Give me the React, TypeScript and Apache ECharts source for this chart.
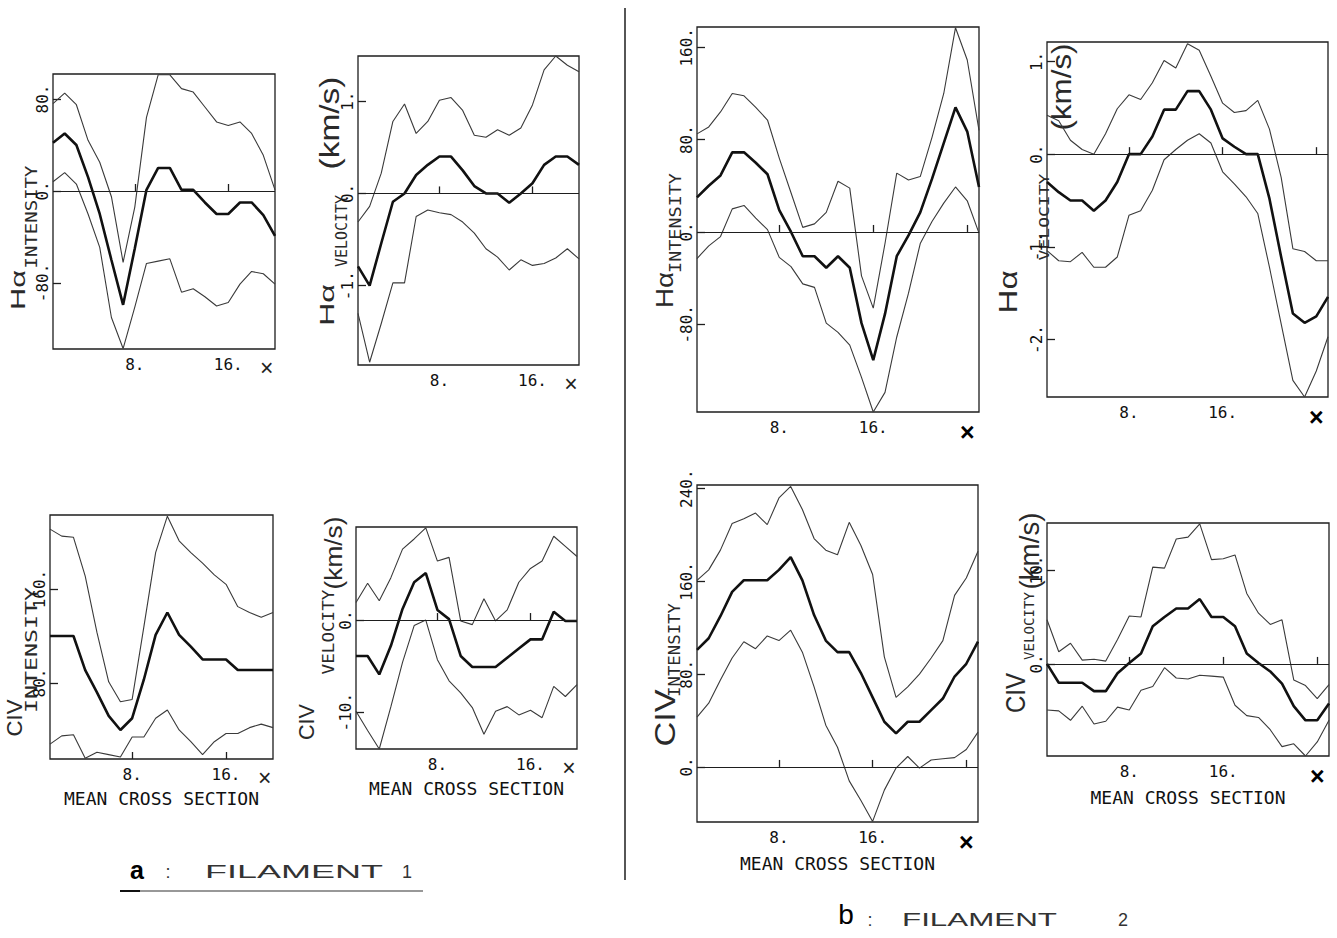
import React, { useEffect, useRef } from "react";
import * as echarts from "echarts";

// ---------------- DATA ----------------
const f1X = [1, 2, 3, 4, 5, 6, 7, 8, 9, 10, 11, 12, 13, 14, 15, 16, 17, 18, 19, 20];
const f2X = [1, 2, 3, 4, 5, 6, 7, 8, 9, 10, 11, 12, 13, 14, 15, 16, 17, 18, 19, 20, 21, 22, 23, 24, 25];

// Filament 1 — Hα intensity
const f1HaIntUpper = [76, 85, 75, 44, 25, -5, -62, -14, 64, 101, 101, 89, 86, 73, 60, 57, 60, 50, 31, 1];
const f1HaIntMean = [42, 50, 40, 12, -20, -60, -99, -50, 1, 20, 20, 1, 1, -10, -20, -20, -10, -10, -21, -39];
const f1HaIntLower = [8, 16, 6, -20, -49, -110, -137, -101, -63, -61, -59, -88, -85, -92, -100, -97, -81, -70, -72, -81];

// Filament 1 — Hα velocity (km/s)
const f1HaVelUpper = [-0.31, -0.14, 0.22, 0.78, 0.97, 0.65, 0.78, 1.01, 1.04, 0.9, 0.63, 0.61, 0.69, 0.63, 0.71, 0.96, 1.34, 1.49, 1.39, 1.32];
const f1HaVelMean = [-0.79, -1.0, -0.54, -0.09, 0, 0.2, 0.31, 0.4, 0.4, 0.25, 0.08, 0, 0, -0.1, 0, 0.11, 0.31, 0.4, 0.4, 0.31];
const f1HaVelLower = [-1.3, -1.83, -1.41, -0.97, -0.97, -0.25, -0.18, -0.21, -0.23, -0.31, -0.43, -0.6, -0.69, -0.83, -0.72, -0.78, -0.76, -0.7, -0.6, -0.71];

// Filament 1 — CIV intensity
const f1CivIntUpper = [211, 205, 204, 171, 123, 81, 64, 66, 128, 191, 222, 201, 191, 182, 172, 164, 145, 140, 136, 140];
const f1CivIntMean = [120, 120, 120, 91, 72, 52, 40, 50, 83, 121, 140, 121, 111, 100, 100, 100, 91, 91, 91, 91];
const f1CivIntLower = [28, 35, 36, 16, 21, 19, 17, 34, 34, 50, 57, 40, 30, 19, 30, 37, 37, 42, 45, 42];

// Filament 1 — CIV velocity (km/s)
const f1CivVelUpper = [1.9, 4.0, 2.1, 4.6, 7.7, 8.8, 10.0, 6.4, 6.8, -0.1, -0.5, 2.3, -0.1, 1.1, 4.1, 5.6, 6.4, 9.1, 8.0, 6.9];
const f1CivVelMean = [-3.9, -3.9, -5.9, -2.8, 1.2, 4.1, 5.1, 1.1, 0.1, -3.9, -5.1, -5.1, -5.1, -4.1, -3.1, -2.1, -2.1, 0.9, -0.1, -0.1];
const f1CivVelLower = [-9.9, -12.0, -14.0, -9.4, -4.6, -0.6, 0, -4.3, -6.6, -7.9, -9.5, -12.4, -9.9, -9.4, -10.3, -9.8, -10.6, -7.2, -8.3, -7.0];

// Filament 2 — Hα intensity
const f2HaIntUpper = [85, 91, 104, 120, 118, 108, 97, 64, 34, 4, 7, 17, 44, 38, -38, -66, -10, 51, 45, 48, 82, 120, 177, 149, 88];
const f2HaIntMean = [30, 40, 49, 69, 69, 60, 50, 19, 0, -21, -21, -31, -21, -31, -79, -111, -71, -21, -3, 17, 46, 77, 108, 87, 39];
const f2HaIntLower = [-23, -12, -4, 20, 23, 12, 2, -22, -30, -45, -48, -79, -87, -98, -126, -156, -139, -91, -53, -10, 9, 25, 39, 27, -1];

// Filament 2 — Hα velocity (km/s)
const f2HaVelUpper = [0.42, 0.36, 0.15, 0.05, 0, 0.22, 0.49, 0.64, 0.59, 0.77, 1.01, 0.93, 1.19, 1.12, 0.84, 0.55, 0.45, 0.47, 0.58, 0.27, -0.25, -1.02, -1.05, -1.15, -1.15];
const f2HaVelMean = [-0.3, -0.41, -0.5, -0.5, -0.61, -0.5, -0.3, 0, 0, 0.19, 0.48, 0.48, 0.68, 0.68, 0.48, 0.17, 0.08, 0, 0, -0.48, -1.11, -1.72, -1.82, -1.75, -1.54];
const f2HaVelLower = [-1.04, -1.15, -1.16, -1.06, -1.22, -1.22, -1.11, -0.66, -0.61, -0.39, -0.06, 0.05, 0.15, 0.22, 0.12, -0.19, -0.32, -0.46, -0.64, -1.22, -1.83, -2.44, -2.62, -2.34, -1.97];

// Filament 2 — CIV intensity
const f2CivIntUpper = [161, 170, 187, 210, 214, 219, 209, 232, 242, 222, 197, 187, 183, 211, 191, 166, 95, 60, 69, 80, 94, 109, 148, 163, 186];
const f2CivIntMean = [101, 111, 130, 151, 161, 161, 161, 170, 181, 161, 131, 109, 99, 99, 81, 60, 39, 29, 39, 39, 49, 59, 78, 89, 108];
const f2CivIntLower = [43, 55, 75, 94, 108, 102, 113, 109, 118, 99, 69, 36, 17, -12, -29, -47, -20, -1, 9, -1, 6, 7, 8, 15, 30];

// Filament 2 — CIV velocity (km/s)
const f2CivVelUpper = [4.7, 1.3, 2.2, 0.4, 0.5, 0.3, 2.6, 5.1, 5.0, 10.3, 10.2, 13.3, 13.5, 14.9, 11.1, 11.2, 11.6, 7.5, 5.4, 4.2, 4.7, -1.7, -2.3, -3.7, -2.2];
const f2CivVelMean = [0, -2.0, -2.0, -2.0, -2.9, -2.9, -1.0, 0.1, 1.1, 4.0, 5.0, 5.9, 5.9, 6.9, 5.0, 5.0, 4.0, 1.1, 0.1, -0.8, -2.1, -4.5, -6.0, -6.0, -4.2];
const f2CivVelLower = [-4.9, -5.0, -6.0, -4.5, -6.4, -6.1, -4.6, -4.9, -2.8, -2.4, -0.4, -1.5, -1.6, -1.2, -1.3, -1.4, -4.4, -5.5, -5.7, -7.0, -8.8, -8.5, -9.8, -8.3, -6.0];

// Tick values
const f1XTicks = [8, 16];
const f1XLabels = [8, 16, 19.3];
const f1Cross = 19.3;
const f2XTicks = [8, 16, 24];
const f2XLabels = [8, 16, 24];
const f2Cross = 24;

const yTicksF1HaInt = [-80, 0, 80];
const yTicksF1HaVel = [-1, 0, 1];
const yTicksF1CivInt = [80, 160];
const yTicksF1CivVel = [-10, 0];
const yTicksF2HaInt = [-80, 0, 80, 160];
const yTicksF2HaVel = [-2, -1, 0, 1];
const yTicksF2CivInt = [0, 80, 160, 240];
const yTicksF2CivVel = [0, 10];

const xAxisTitle = "MEAN CROSS SECTION";

// ---------------- LAYOUT ----------------
const MONO = "'DejaVu Sans Mono', 'Liberation Mono', monospace";
const SANS = "'Liberation Sans', Arial, sans-serif";
const INK = "#1e1e1e";

type Panel = {
  l: number; t: number; w: number; h: number;
  xs: number[]; upper: number[]; mean: number[]; lower: number[];
  yMin: number; yMax: number; yTicks: number[]; zero: boolean;
  xMax: number; xTicks: number[]; xLabels: number[]; cross: number; boldCross: boolean;
  xName: string;
};

const panels: Panel[] = [
  { l: 53, t: 74, w: 222, h: 275, xs: f1X, upper: f1HaIntUpper, mean: f1HaIntMean, lower: f1HaIntLower,
    yMin: -137.4, yMax: 101.7, yTicks: yTicksF1HaInt, zero: true, xMax: 20, xTicks: f1XTicks, xLabels: f1XLabels, cross: f1Cross, boldCross: false, xName: "" },
  { l: 358, t: 56, w: 221, h: 309, xs: f1X, upper: f1HaVelUpper, mean: f1HaVelMean, lower: f1HaVelLower,
    yMin: -1.86, yMax: 1.49, yTicks: yTicksF1HaVel, zero: true, xMax: 20, xTicks: f1XTicks, xLabels: f1XLabels, cross: f1Cross, boldCross: false, xName: "" },
  { l: 50, t: 515, w: 223, h: 244, xs: f1X, upper: f1CivIntUpper, mean: f1CivIntMean, lower: f1CivIntLower,
    yMin: 15.3, yMax: 223, yTicks: yTicksF1CivInt, zero: false, xMax: 20, xTicks: f1XTicks, xLabels: f1XLabels, cross: f1Cross, boldCross: false, xName: xAxisTitle },
  { l: 356, t: 527, w: 221, h: 222, xs: f1X, upper: f1CivVelUpper, mean: f1CivVelMean, lower: f1CivVelLower,
    yMin: -14, yMax: 10.1, yTicks: yTicksF1CivVel, zero: true, xMax: 20, xTicks: f1XTicks, xLabels: f1XLabels, cross: f1Cross, boldCross: false, xName: xAxisTitle },
  { l: 697, t: 27, w: 282, h: 385, xs: f2X, upper: f2HaIntUpper, mean: f2HaIntMean, lower: f2HaIntLower,
    yMin: -156, yMax: 177.6, yTicks: yTicksF2HaInt, zero: true, xMax: 25, xTicks: f2XTicks, xLabels: f2XLabels, cross: f2Cross, boldCross: true, xName: "" },
  { l: 1047, t: 42, w: 281, h: 355, xs: f2X, upper: f2HaVelUpper, mean: f2HaVelMean, lower: f2HaVelLower,
    yMin: -2.62, yMax: 1.21, yTicks: yTicksF2HaVel, zero: true, xMax: 25, xTicks: f2XTicks, xLabels: f2XLabels, cross: f2Cross, boldCross: true, xName: "" },
  { l: 697, t: 485, w: 281, h: 337, xs: f2X, upper: f2CivIntUpper, mean: f2CivIntMean, lower: f2CivIntLower,
    yMin: -47.5, yMax: 243.2, yTicks: yTicksF2CivInt, zero: true, xMax: 25, xTicks: f2XTicks, xLabels: f2XLabels, cross: f2Cross, boldCross: true, xName: xAxisTitle },
  { l: 1047, t: 523, w: 282, h: 233, xs: f2X, upper: f2CivVelUpper, mean: f2CivVelMean, lower: f2CivVelLower,
    yMin: -9.8, yMax: 15, yTicks: yTicksF2CivVel, zero: true, xMax: 25, xTicks: f2XTicks, xLabels: f2XLabels, cross: f2Cross, boldCross: true, xName: xAxisTitle },
];

// rotated axis titles: text, centre, length along reading direction, font size, family
const axisTitles = [
  { text: "Hα", cx: 18, cy: 290, len: 40, size: 21, family: SANS },
  { text: "INTENSITY", cx: 32, cy: 217, len: 103, size: 16, family: MONO },
  { text: "Hα", cx: 327, cy: 305, len: 42, size: 21, family: SANS },
  { text: "VELOCITY", cx: 342, cy: 231, len: 72, size: 15, family: MONO },
  { text: "(km/s)", cx: 329, cy: 123, len: 93, size: 27, family: SANS },
  { text: "CIV", cx: 15, cy: 718, len: 37, size: 22, family: SANS },
  { text: "INTENSITY", cx: 31, cy: 650, len: 126, size: 16, family: MONO },
  { text: "CIV", cx: 306, cy: 722, len: 36, size: 22, family: SANS },
  { text: "VELOCITY", cx: 328, cy: 632, len: 85, size: 16, family: MONO },
  { text: "(km/s)", cx: 334, cy: 553, len: 73, size: 23, family: SANS },
  { text: "Hα", cx: 665, cy: 290, len: 36, size: 23, family: SANS },
  { text: "INTENSITY", cx: 676, cy: 223, len: 100, size: 15, family: MONO },
  { text: "Hα", cx: 1008, cy: 292, len: 43, size: 25, family: SANS },
  { text: "VELOCITY", cx: 1044, cy: 217, len: 87, size: 14, family: MONO },
  { text: "(km/s)", cx: 1062, cy: 87, len: 87, size: 27, family: SANS },
  { text: "CIV", cx: 665, cy: 718, len: 57, size: 30, family: SANS },
  { text: "INTENSITY", cx: 675, cy: 650, len: 94, size: 16, family: MONO },
  { text: "CIV", cx: 1015, cy: 693, len: 40, size: 28, family: SANS },
  { text: "VELOCITY", cx: 1029, cy: 626, len: 68, size: 14, family: MONO },
  { text: "(km/s)", cx: 1030, cy: 551, len: 77, size: 27, family: SANS },
];

let measureCtx: CanvasRenderingContext2D | null = null;
function textWidth(text: string, size: number, family: string, weight = "normal") {
  if (!measureCtx) measureCtx = document.createElement("canvas").getContext("2d");
  if (!measureCtx) return text.length * size * 0.6;
  measureCtx.font = `${weight} ${size}px ${family}`;
  return measureCtx.measureText(text).width || text.length * size * 0.6;
}

function buildOption() {
  const grid = panels.map((p) => ({
    left: p.l, top: p.t, width: p.w, height: p.h,
    show: true, borderColor: INK, borderWidth: 1.3, backgroundColor: "transparent",
    containLabel: false, outerBoundsMode: "none",
  }));

  const xAxis = panels.map((p, i) => ({
    type: "value", gridIndex: i, min: 1, max: p.xMax,
    axisLine: { show: false }, splitLine: { show: false },
    axisTick: { show: true, inside: true, length: 7, customValues: p.xTicks, lineStyle: { color: INK, width: 1.3 } },
    axisLabel: {
      customValues: p.xLabels, margin: 7, color: "#111", fontFamily: MONO, fontSize: 16,
      formatter: (v: number) => (v === p.cross ? "{x|×}" : `${v}.`),
      rich: {
        x: p.boldCross
          ? { fontFamily: SANS, fontSize: 25, fontWeight: "bold", color: "#000" }
          : { fontFamily: SANS, fontSize: 23, color: INK, padding: [0, 0, 4, 0] },
      },
    },
    name: p.xName, nameLocation: "middle", nameGap: 21,
    nameTextStyle: { fontFamily: MONO, fontSize: 18, color: "#111" },
  }));

  const yAxis = panels.map((p, i) => ({
    type: "value", gridIndex: i, min: p.yMin, max: p.yMax,
    axisLine: { show: false }, splitLine: { show: false },
    axisTick: { show: true, inside: true, length: 8, customValues: p.yTicks, lineStyle: { color: INK, width: 1.3 } },
    axisLabel: {
      customValues: p.yTicks, rotate: 90, margin: 3, color: "#111", fontFamily: MONO, fontSize: 16,
      formatter: (v: number) => `${v}.`,
    },
  }));

  const series: any[] = [];
  panels.forEach((p, i) => {
    const pairs = (arr: number[]) => p.xs.map((x, k) => [x, arr[k]]);
    series.push({
      type: "line", xAxisIndex: i, yAxisIndex: i, data: pairs(p.upper), symbol: "none", silent: true,
      lineStyle: { color: "#3a3a3a", width: 1.1 },
    });
    series.push({
      type: "line", xAxisIndex: i, yAxisIndex: i, data: pairs(p.lower), symbol: "none", silent: true,
      lineStyle: { color: "#3a3a3a", width: 1.1 },
    });
    series.push({
      type: "line", xAxisIndex: i, yAxisIndex: i, data: pairs(p.mean), symbol: "none", silent: true,
      lineStyle: { color: "#111", width: 2.6 },
      markLine: p.zero
        ? { silent: true, symbol: ["none", "none"], label: { show: false },
            lineStyle: { color: INK, width: 1.2, type: "solid" }, data: [{ yAxis: 0 }] }
        : undefined,
    });
  });

  const graphic: any[] = axisTitles.map((a) => ({
    type: "text", x: a.cx, y: a.cy, rotation: Math.PI / 2,
    scaleX: a.len / textWidth(a.text, a.size, a.family),
    silent: true,
    style: {
      text: a.text, fontSize: a.size, fontFamily: a.family, fill: "#2a2a2a",
      align: "center", verticalAlign: "middle", textAlign: "center", textVerticalAlign: "middle",
    },
  }));

  const horiz = (text: string, x: number, y: number, size: number, opts: any = {}) => ({
    type: "text", x, y, silent: true, scaleX: opts.scaleX ?? 1,
    style: {
      text, fontSize: size, fontFamily: opts.family ?? SANS, fontWeight: opts.weight ?? "normal",
      fill: opts.fill ?? "#333", align: opts.align ?? "center", verticalAlign: "middle",
      textAlign: opts.align ?? "center", textVerticalAlign: "middle",
    },
  });

  const filW = textWidth("FILAMENT", 18, SANS);
  graphic.push(
    // divider
    { type: "line", silent: true, shape: { x1: 625, y1: 8, x2: 625, y2: 880 }, style: { stroke: INK, lineWidth: 1.5 } },
    // a : FILAMENT 1
    horiz("a", 137, 870, 25, { weight: "bold", fill: "#000" }),
    horiz(":", 168, 872, 18),
    horiz("FILAMENT", 205, 872, 18, { align: "left", scaleX: 178 / filW }),
    horiz("1", 407, 872, 18),
    { type: "line", silent: true, shape: { x1: 120, y1: 891, x2: 423, y2: 891 }, style: { stroke: "#333", lineWidth: 1.2 } },
    { type: "line", silent: true, shape: { x1: 120, y1: 891, x2: 140, y2: 891 }, style: { stroke: "#111", lineWidth: 2 } },
    // b : FILAMENT 2
    horiz("b", 846, 914, 28, { fill: "#000" }),
    horiz(":", 870, 920, 18),
    horiz("FILAMENT", 902, 920, 18, { align: "left", scaleX: 155 / filW }),
    horiz("2", 1123, 920, 18),
  );

  return {
    animation: false,
    backgroundColor: "#ffffff",
    grid, xAxis, yAxis, series, graphic,
  };
}

export default function App() {
  const ref = useRef<HTMLDivElement | null>(null);
  useEffect(() => {
    document.body.style.margin = "0";
    if (!ref.current) return;
    const chart = echarts.init(ref.current, null, { renderer: "svg" });
    chart.setOption(buildOption() as any);
    return () => chart.dispose();
  }, []);
  return (
    <div
      ref={ref}
      style={{ position: "absolute", left: 0, top: 0, width: 1337, height: 938, background: "#fff" }}
    />
  );
}
